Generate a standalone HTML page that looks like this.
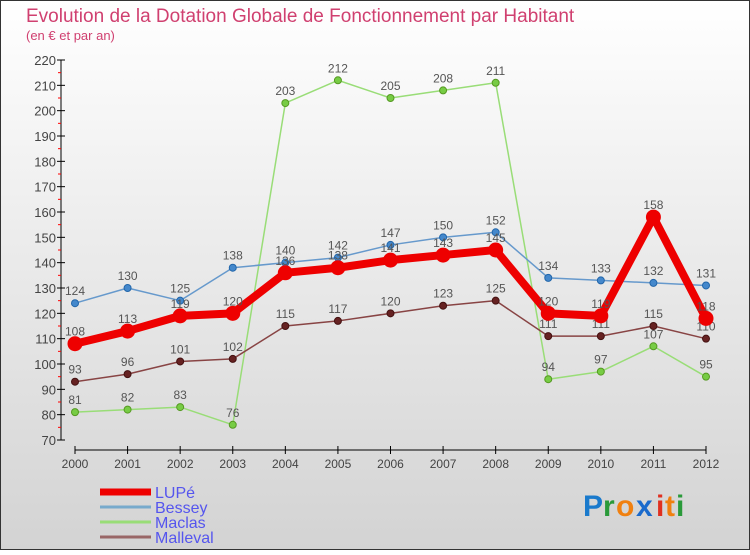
<!DOCTYPE html>
<html><head><meta charset="utf-8"><style>
html,body{margin:0;padding:0}
body{width:750px;height:550px;overflow:hidden;font-family:"Liberation Sans",sans-serif}
svg text{font-family:"Liberation Sans",sans-serif}
</style></head><body>
<svg id="chart" width="750" height="550" xmlns="http://www.w3.org/2000/svg">
<defs><linearGradient id="bg" x1="0" y1="0" x2="0" y2="1"><stop offset="0" stop-color="#ffffff"/><stop offset="1" stop-color="#d3d3d3"/></linearGradient></defs>
<rect x="0.5" y="0.5" width="749" height="549" fill="url(#bg)" stroke="#333"/>
<text x="26" y="22" font-size="19" fill="#d04070">Evolution de la Dotation Globale de Fonctionnement par Habitant</text>
<text x="26" y="40" font-size="13" fill="#d04070">(en € et par an)</text>
<g id="axes"></g><g id="series"></g><g id="legend"></g>
<g font-size="30" font-weight="bold">
<text x="583" y="516" fill="#1a7acc">P</text><text x="603" y="516" fill="#2a9a3a">r</text><text x="616" y="516" fill="#f08010">o</text><text x="636" y="516" fill="#1a6acc">x</text><text x="656" y="516" fill="#e03020">i</text><text x="665" y="516" fill="#f08010">t</text><text x="676" y="516" fill="#2a9a3a">i</text>
</g>
</svg>
<script>
const years=[2000,2001,2002,2003,2004,2005,2006,2007,2008,2009,2010,2011,2012];
const lupe=[108,113,119,120,136,138,141,143,145,120,119,158,118];
const bessey=[124,130,125,138,140,142,147,150,152,134,133,132,131];
const maclas=[81,82,83,76,203,212,205,208,211,94,97,107,95];
const malleval=[93,96,101,102,115,117,120,123,125,111,111,115,110];
const yTicks=[70,80,90,100,110,120,130,140,150,160,170,180,190,200,210,220];
const NS="http://www.w3.org/2000/svg";
const X=i=>75+i*(706-75)/(years.length-1);
const Y=v=>440-(v-70)*380/150;
function mk(tag,attrs,parent){const e=document.createElementNS(NS,tag);for(const k in attrs)e.setAttribute(k,attrs[k]);parent.appendChild(e);return e;}
const axes=document.getElementById('axes');
let yAxis=mk('line',{x1:61,y1:60,x2:61,y2:440,stroke:'#000'},axes);


yTicks.forEach(v=>{
 let t=mk('line',{x1:57,y1:Y(v),x2:65,y2:Y(v),stroke:'#000'},axes);
 
 
 if(v<220){let m=mk('line',{x1:58,y1:Y(v+5),x2:61,y2:Y(v+5),stroke:'#f00'},axes);
 
 }
 let l=mk('text',{x:56,y:Y(v)+5,'text-anchor':'end','font-size':13,fill:'#444'},axes);l.textContent=v;
 
 
});
let xAxis=mk('line',{x1:75,y1:450,x2:706,y2:450,stroke:'#000'},axes);


years.forEach((y,i)=>{
 let t=mk('line',{x1:X(i),y1:446,x2:X(i),y2:454,stroke:'#000'},axes);
 
 
 let l=mk('text',{x:X(i),y:468,'text-anchor':'middle','font-size':12,fill:'#444'},axes);l.textContent=y;
 
 
});
const sg=document.getElementById('series');
function draw(vals,name,color,width,r,dot,dotStroke){
 const g=mk('g',{},sg);
 
 
 let p=mk('polyline',{points:vals.map((v,i)=>X(i)+','+Y(v)).join(' '),fill:'none',stroke:color,'stroke-width':width,'stroke-linejoin':'round'},g);
 
 
 vals.forEach((v,i)=>{
  let c=mk('circle',{cx:X(i),cy:Y(v),r:r,fill:dot,stroke:dotStroke,'stroke-width':1},g);
  
  
  let t=mk('text',{x:X(i),y:Y(v)-8,'text-anchor':'middle','font-size':12,fill:'#555'},g);t.textContent=v;
  
  
 });
}
draw(maclas,'maclas','#99dd77',1.5,3.5,'#77cc44','#559922');
draw(malleval,'malleval','#884444',1.5,3.5,'#662222','#441111');
draw(bessey,'bessey','#6699cc',1.5,3.5,'#4488cc','#2266aa');
draw(lupe,'lupe','#ee0000',8,7,'#ee0000','#ee0000');
const lg=document.getElementById('legend');
const names=['LUPé','Bessey','Maclas','Malleval'],cols=['#ee0000','#77aacc','#99dd77','#996666'],ws=[7,3,3,3];
names.forEach((n,i)=>{
 const y=492+i*15;
 let e=mk('g',{},lg);
 
 
 mk('line',{x1:100,y1:y,x2:151,y2:y,stroke:cols[i],'stroke-width':ws[i]},e);
 let t=mk('text',{x:155,y:y+6,'font-size':16,fill:'#5555ee'},e);t.textContent=n;
});
</script>
</body></html>
